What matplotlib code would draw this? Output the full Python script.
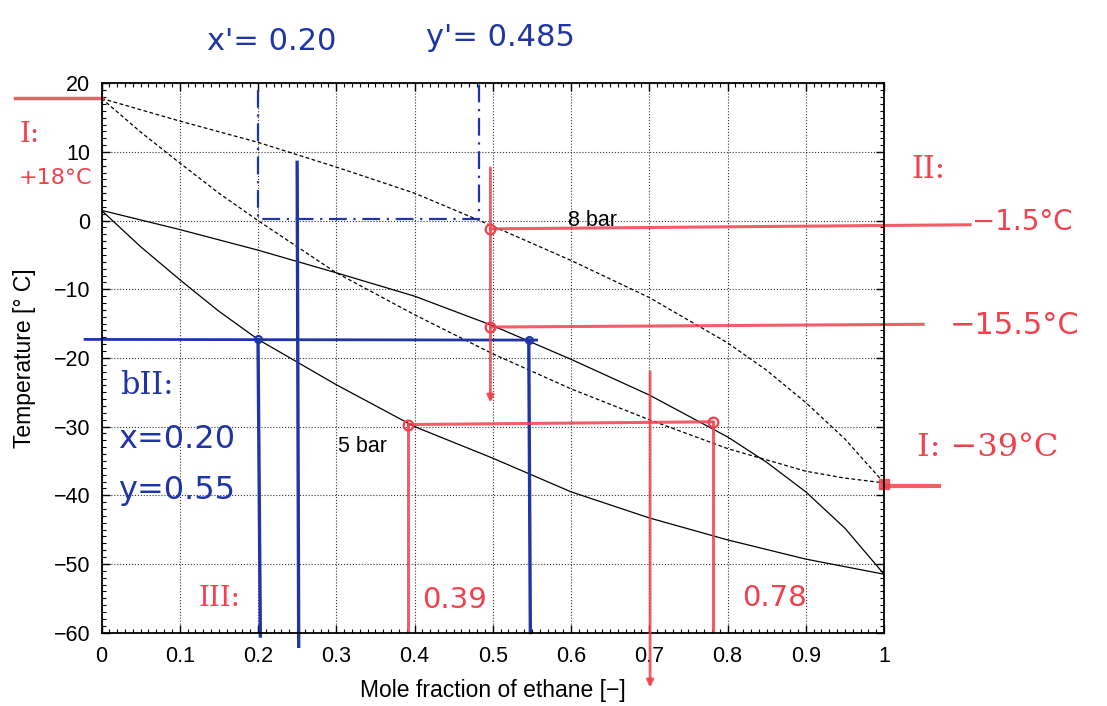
import numpy as np
import matplotlib.pyplot as plt
from matplotlib.ticker import MultipleLocator

plt.rcParams['font.family'] = ['Liberation Sans', 'DejaVu Sans']

# --- phase diagram curves ---
dew8_x = [0, 0.1, 0.2, 0.3, 0.4, 0.5, 0.6, 0.7, 0.8, 0.85, 0.9, 0.95, 1.0]
dew8_T = [17.8, 14.5, 11.4, 7.8, 4.0, -0.8, -5.8, -11.2, -17.8, -21.8, -26.5, -31.8, -38.2]
bub8_x = [0, 0.05, 0.1, 0.15, 0.2, 0.3, 0.4, 0.5, 0.6, 0.7, 0.8, 0.9, 0.95, 1.0]
bub8_T = [17.8, 12.9, 8.4, 4.0, 0.0, -7.6, -13.7, -19.4, -24.5, -29.0, -33.2, -36.5, -37.5, -38.2]
dew5_x = [0, 0.1, 0.2, 0.3, 0.4, 0.5, 0.6, 0.7, 0.8, 0.85, 0.9, 0.95, 1.0]
dew5_T = [1.5, -1.3, -4.3, -7.6, -11.0, -15.3, -20.2, -25.4, -31.5, -35.2, -39.5, -44.8, -51.5]
bub5_x = [0, 0.05, 0.1, 0.15, 0.2, 0.3, 0.4, 0.5, 0.6, 0.7, 0.8, 0.9, 1.0]
bub5_T = [1.5, -3.8, -8.6, -13.2, -17.3, -23.9, -30.0, -34.6, -39.5, -43.3, -46.5, -49.3, -51.5]

x_ticks = [0, 0.1, 0.2, 0.3, 0.4, 0.5, 0.6, 0.7, 0.8, 0.9, 1]
x_ticklabels = ['0', '0.1', '0.2', '0.3', '0.4', '0.5', '0.6', '0.7', '0.8', '0.9', '1']
y_ticks = [20, 10, 0, -10, -20, -30, -40, -50, -60]

# --- hand-drawn construction lines ---
blue_dash_x = [0.2, 0.2, 0.482, 0.482]
blue_dash_T = [19.0, 0.2, 0.2, 20.0]
blue_h_x = [-0.021, 0.556]
blue_h_T = [-17.3, -17.4]
blue_v1_x = [0.2, 0.203]
blue_v1_T = [-17.3, -60.5]
blue_v2_x = [0.25, 0.252]
blue_v2_T = [8.5, -62.0]
blue_v3_x = [0.546, 0.548]
blue_v3_T = [-17.4, -60.0]
blue_pts_x = [0.2, 0.546]
blue_pts_T = [-17.3, -17.4]

red_left_x = [-0.11, 0.0]
red_left_T = [17.8, 17.8]
red_h1_x = [0.497, 1.11]
red_h1_T = [-1.2, -0.6]
red_h2_x = [0.497, 1.05]
red_h2_T = [-15.5, -15.1]
red_h3_x = [0.392, 0.781]
red_h3_T = [-29.7, -29.3]
red_v39_x = [0.392, 0.392]
red_v39_T = [-29.7, -60.0]
red_v78_x = [0.781, 0.781]
red_v78_T = [-29.3, -60.0]
red_right_x = [1.0, 1.07]
red_right_T = [-38.6, -38.6]
red_arrow1 = [(0.497, 7.7), (0.497, -26.5)]
red_arrow2 = [(0.701, -22.0), (0.701, -68.0)]
red_circ_x = [0.497, 0.497, 0.392, 0.781]
red_circ_T = [-1.2, -15.5, -29.7, -29.3]

blue = '#1f35a5'
red = '#f2404c'

fig = plt.figure(figsize=(11.07, 7.06), dpi=100)
ax = fig.add_axes([0.0917, 0.104, 0.7069, 0.778])

ax.plot(dew8_x, dew8_T, color='k', lw=0.9, ls=(0, (3, 2)))
ax.plot(bub8_x, bub8_T, color='k', lw=0.9, ls=(0, (3, 2)))
ax.plot(dew5_x, dew5_T, color='k', lw=0.9)
ax.plot(bub5_x, bub5_T, color='k', lw=0.9)

ax.text(0.596, 0.0, '8 bar', fontsize=15.5, va='center', ha='left')
ax.text(0.302, -32.9, '5 bar', fontsize=15.5, va='center', ha='left')

ax.set_xlim(0, 1)
ax.set_ylim(-60, 20)
ax.set_xticks(x_ticks)
ax.set_xticklabels(x_ticklabels)
ax.set_yticks(y_ticks)
ax.xaxis.set_minor_locator(MultipleLocator(0.01))
ax.yaxis.set_minor_locator(MultipleLocator(1))
ax.tick_params(which='both', direction='in', top=True, right=True, labelsize=15.5)
ax.tick_params(which='major', length=6, width=1)
ax.tick_params(which='minor', length=3, width=0.8)
ax.tick_params(axis='x', which='major', pad=10)
ax.tick_params(axis='y', which='major', pad=8)
ax.grid(True, which='major', ls=':', color='k', lw=0.8, alpha=0.8)
for s in ax.spines.values():
    s.set_linewidth(1.3)
ax.set_xlabel('Mole fraction of ethane [\u2212]', fontsize=16.5, labelpad=8)
ax.set_ylabel('Temperature [° C]', fontsize=16.5, labelpad=13)

# blue construction
ax.plot(blue_dash_x, blue_dash_T, color=blue, lw=1.6, ls=(0, (8, 3, 1, 3)), clip_on=False)
ax.plot(blue_h_x, blue_h_T, color=blue, lw=2, clip_on=False)
ax.plot(blue_v1_x, blue_v1_T, color=blue, lw=2.4, clip_on=False)
ax.plot(blue_v2_x, blue_v2_T, color=blue, lw=2.4, clip_on=False)
ax.plot(blue_v3_x, blue_v3_T, color=blue, lw=2.4, clip_on=False)
ax.plot(blue_pts_x, blue_pts_T, 'o', color=blue, ms=5, mfc='none', mew=1.5)

# red construction
ax.plot(red_left_x, red_left_T, color=red, lw=2.5, alpha=0.85, clip_on=False)
ax.plot(red_h1_x, red_h1_T, color=red, lw=2.2, alpha=0.85, clip_on=False)
ax.plot(red_h2_x, red_h2_T, color=red, lw=2.2, alpha=0.85, clip_on=False)
ax.plot(red_h3_x, red_h3_T, color=red, lw=2.2, alpha=0.85)
ax.plot(red_v39_x, red_v39_T, color=red, lw=2.2, alpha=0.85)
ax.plot(red_v78_x, red_v78_T, color=red, lw=2.2, alpha=0.85)
ax.plot(red_right_x, red_right_T, color=red, lw=3, alpha=0.85, clip_on=False)
ax.plot([1.0], [-38.3], 's', color=red, ms=7, alpha=0.85, clip_on=False)
ax.plot(red_circ_x, red_circ_T, 'o', color=red, ms=7, mfc='none', mew=1.6)
for start, end in (red_arrow1, red_arrow2):
    ax.annotate('', xy=end, xytext=start, annotation_clip=False,
                arrowprops=dict(arrowstyle='-|>', color=red, lw=2, alpha=0.85,
                                mutation_scale=10, shrinkA=0, shrinkB=0))

# handwritten notes (figure pixel positions)
W, H = 1107, 706
def note(px, py, s, color, size, fam='DejaVu Sans'):
    fig.text(px / W, 1 - py / H, s, color=color, fontsize=size,
             ha='center', va='center', family=[fam])

note(272, 42, "x'= 0.20", blue, 22)
note(500, 38, "y'= 0.485", blue, 22)
note(147, 385, 'bII:', blue, 22, 'DejaVu Serif')
note(177, 440, 'x=0.20', blue, 23)
note(177, 490, 'y=0.55', blue, 23)

note(30, 135, 'I:', red, 20, 'DejaVu Serif')
note(55, 178, '+18°C', red, 16)
note(928, 170, 'II:', red, 22, 'DejaVu Serif')
note(1022, 222, '\u22121.5°C', red, 20)
note(1015, 325, '\u221215.5°C', red, 22)
note(988, 447, 'I: \u221239°C', red, 23, 'DejaVu Serif')
note(219, 598, 'III:', red, 20, 'DejaVu Serif')
note(455, 600, '0.39', red, 21)
note(774, 598, '0.78', red, 21)

fig.savefig('out.png', dpi=100)
